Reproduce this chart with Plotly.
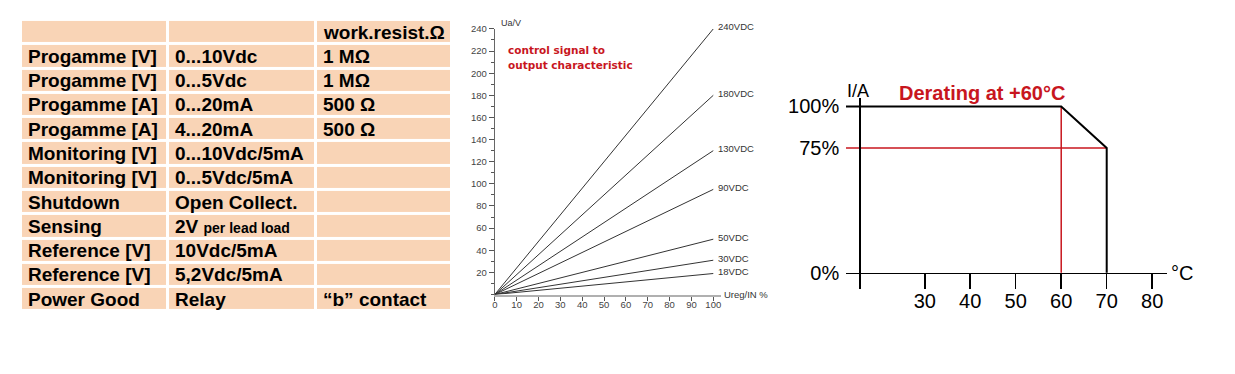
import plotly.graph_objects as go

# ---------------- data ----------------
# table
col_param = ["", "Progamme [V]", "Progamme [V]", "Progamme [A]", "Progamme [A]",
             "Monitoring [V]", "Monitoring [V]", "Shutdown", "Sensing",
             "Reference [V]", "Reference [V]", "Power Good"]
col_signal = ["", "0...10Vdc", "0...5Vdc", "0...20mA", "4...20mA",
              "0...10Vdc/5mA", "0...5Vdc/5mA", "Open Collect.",
              "2V <span style='font-size:14px'>per lead load</span>",
              "10Vdc/5mA", "5,2Vdc/5mA", "Relay"]
col_resist = ["work.resist.Ω", "1 MΩ", "1 MΩ", "500 Ω", "500 Ω",
              "", "", "", "", "", "", "“b” contact"]

# control signal -> output characteristic
ctrl_pct = [0, 100]
out_labels = ["240VDC", "180VDC", "130VDC", "90VDC", "50VDC", "30VDC", "18VDC"]
out_end = [240, 180, 130, 95, 50, 31, 19]
ctrl_xticks = [0, 10, 20, 30, 40, 50, 60, 70, 80, 90, 100]
ctrl_yticks = [20, 40, 60, 80, 100, 120, 140, 160, 180, 200, 220, 240]

# derating
derate_temp = [12.675, 60, 70, 70]
derate_load = [100, 100, 75, 0]
ref75_temp = [12.675, 70]
ref75_load = [75, 75]
ref60_temp = [60, 60]
ref60_load = [0, 100]
temp_ticks = [30, 40, 50, 60, 70, 80]
load_ticks = [0, 75, 100]
load_ticktext = ["0%", "75%", "100%"]

# ---------------- layout helpers ----------------
W, H = 1235, 374
def px_x(p):
    return p / W
def px_y(p):
    # pixel row (from top) -> paper fraction, with a small vertical calibration
    return 1 - ((p - 5.6) / 0.9835) / H

PEACH = "#F9D4B6"
RED = "#C8161E"
ARIAL = "Liberation Sans"

fig = go.Figure()

# ---------------- table (heatmap cells with gaps) ----------------
col_widths = [146.6, 148.4, 136.5]
col_edges = [0]
for w in col_widths:
    col_edges.append(col_edges[-1] + w)
n_rows = len(col_param)
row_edges = list(range(n_rows + 1))
fig.add_trace(go.Heatmap(
    z=[[1, 1, 1] for _ in range(n_rows)],
    x=col_edges, y=row_edges,
    colorscale=[[0, PEACH], [1, PEACH]], showscale=False,
    xgap=3, ygap=3, hoverinfo="skip",
    xaxis="x3", yaxis="y3"))

annotations = []
for c, col in enumerate([col_param, col_signal, col_resist]):
    for r, txt in enumerate(col):
        if not txt:
            continue
        annotations.append(dict(
            x=col_edges[c], y=r + 0.5, xref="x3", yref="y3",
            text=txt, showarrow=False, xanchor="left", yanchor="middle",
            xshift=5, font=dict(family=ARIAL, size=19, color="black", weight="bold")))

# ---------------- control characteristic ----------------
for lab, v in zip(out_labels, out_end):
    fig.add_trace(go.Scatter(x=ctrl_pct, y=[0, v], mode="lines",
                             line=dict(color="#333333", width=1),
                             hoverinfo="skip", xaxis="x", yaxis="y"))
    annotations.append(dict(x=100, y=v, xref="x", yref="y", text=lab,
                            showarrow=False, xanchor="left", yanchor="middle",
                            xshift=3, yshift=2,
                            font=dict(family=ARIAL, size=9.5, color="#333333")))

annotations += [
    dict(x=px_x(497), y=px_y(23), xref="paper", yref="paper", text="Ua/V",
         showarrow=False, xanchor="left", yanchor="middle",
         font=dict(family=ARIAL, size=9, color="#333333")),
    dict(x=px_x(721), y=px_y(294), xref="paper", yref="paper", text="Ureg/IN %",
         showarrow=False, xanchor="left", yanchor="middle",
         font=dict(family=ARIAL, size=9.5, color="#333333")),
    dict(x=px_x(504), y=px_y(49.5), xref="paper", yref="paper", text="control signal to",
         showarrow=False, xanchor="left", yanchor="middle",
         font=dict(family="DejaVu Sans", size=10.5, color=RED, weight="bold")),
    dict(x=px_x(504), y=px_y(65), xref="paper", yref="paper", text="output characteristic",
         showarrow=False, xanchor="left", yanchor="middle",
         font=dict(family="DejaVu Sans", size=10.5, color=RED, weight="bold")),
]

# ---------------- derating ----------------
fig.add_trace(go.Scatter(x=ref75_temp, y=ref75_load, mode="lines",
                         line=dict(color=RED, width=1.5), hoverinfo="skip",
                         xaxis="x2", yaxis="y2"))
fig.add_trace(go.Scatter(x=ref60_temp, y=ref60_load, mode="lines",
                         line=dict(color=RED, width=1.5), hoverinfo="skip",
                         xaxis="x2", yaxis="y2"))
fig.add_trace(go.Scatter(x=derate_temp, y=derate_load, mode="lines",
                         line=dict(color="black", width=2), hoverinfo="skip",
                         xaxis="x2", yaxis="y2"))

annotations += [
    dict(x=px_x(844), y=px_y(91), xref="paper", yref="paper", text="I/A",
         showarrow=False, xanchor="left", yanchor="middle",
         font=dict(family=ARIAL, size=18, color="black")),
    dict(x=px_x(896), y=px_y(92.7), xref="paper", yref="paper", text="Derating at +60°C",
         showarrow=False, xanchor="left", yanchor="middle",
         font=dict(family=ARIAL, size=20, color=RED, weight="bold")),
    dict(x=px_x(1169), y=px_y(272.5), xref="paper", yref="paper", text="°C",
         showarrow=False, xanchor="left", yanchor="middle",
         font=dict(family=ARIAL, size=20, color="black")),
]

fig.update_layout(
    width=W, height=H, margin=dict(l=0, r=0, t=0, b=0),
    paper_bgcolor="white", plot_bgcolor="white", showlegend=False,
    annotations=annotations,
    # control chart axes
    xaxis=dict(domain=[px_x(493), px_x(720)], range=[0, 100 * 227 / 219],
               anchor="y", showgrid=False, zeroline=False,
               showline=True, linecolor="#b0b0b0", linewidth=2,
               ticks="outside", ticklen=4, tickcolor="#555555", tickwidth=1,
               tickvals=ctrl_xticks, ticklabelstandoff=-4,
               tickfont=dict(family=ARIAL, size=9.5, color="#444444")),
    yaxis=dict(domain=[px_y(294), px_y(28.5)], range=[0, 240],
               anchor="x", showgrid=False, zeroline=False,
               showline=True, linecolor="#666666", linewidth=1,
               ticks="outside", ticklen=5, tickcolor="#555555", tickwidth=1,
               tickvals=ctrl_yticks,
               minor=dict(dtick=10, tick0=0, ticks="outside", ticklen=3,
                          tickcolor="#555555", showgrid=False),
               tickfont=dict(family=ARIAL, size=9.5, color="#444444")),
    # derating axes
    xaxis2=dict(domain=[px_x(845), px_x(1167)], range=[12.675, 83.29],
                anchor="free", position=px_y(272.3), showgrid=False, zeroline=False,
                showline=True, linecolor="black", linewidth=1.5,
                ticks="outside", ticklen=15, tickwidth=1.5, tickcolor="black",
                tickvals=temp_ticks, ticklabelstandoff=-5,
                tickfont=dict(family=ARIAL, size=20, color="black")),
    yaxis2=dict(domain=[px_y(288), px_y(98)], range=[-9.44, 104.8],
                anchor="free", position=px_x(859.3), showgrid=False, zeroline=False,
                showline=True, linecolor="black", linewidth=2,
                ticks="", tickvals=load_ticks, ticktext=load_ticktext,
                ticklabelstandoff=16,
                tickfont=dict(family=ARIAL, size=20, color="black")),
    # table axes
    xaxis3=dict(domain=[px_x(18), px_x(450.5)], range=[0, col_edges[-1]],
                anchor="y3", visible=False, fixedrange=True),
    yaxis3=dict(domain=[px_y(19.5 + 24.27 * n_rows), px_y(19.5)], range=[n_rows, 0],
                anchor="x3", visible=False, fixedrange=True),
)

fig.write_html(
    "out.html",
    config={"displayModeBar": False, "staticPlot": True},
    post_script=("document.documentElement.style.margin='0';"
                 "document.body.style.margin='0';document.body.style.padding='0';"
                 "document.body.style.overflow='hidden';"
                 "var d=document.getElementById('{plot_id}');"
                 "d.style.position='fixed';d.style.top='0px';d.style.left='0px';"))
